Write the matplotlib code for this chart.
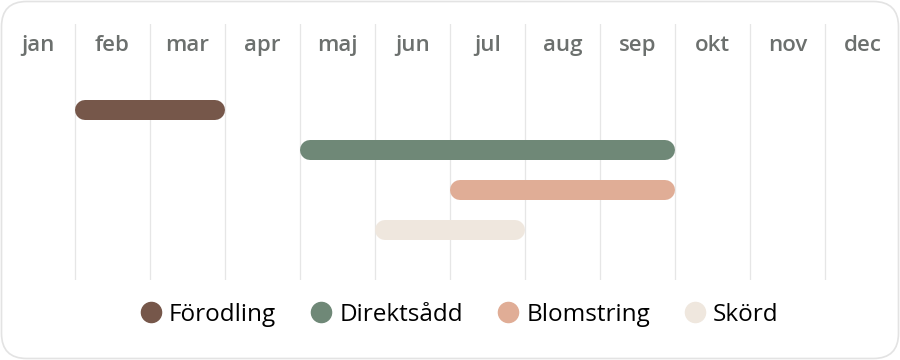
import matplotlib
matplotlib.use("Agg")
import matplotlib.pyplot as plt
from matplotlib.lines import Line2D
from matplotlib.patches import FancyBboxPatch

plt.rcParams['font.family'] = ['Open Sans', 'DejaVu Sans']

MONTHS = ["jan", "feb", "mar", "apr", "maj", "jun",
          "jul", "aug", "sep", "okt", "nov", "dec"]
PHASES = ["Förodling", "Direktsådd", "Blomstring", "Skörd"]
# start month index and end month index (exclusive)
STARTS = [1, 4, 6, 5]
ENDS = [3, 9, 9, 7]
COLOURS = ["#76574a", "#6f8877", "#e0ad96", "#efe7de"]

BAR_PX = 20          # bar thickness in pixels
MONTH_PX = 75        # width of one month in pixels

fig = plt.figure(figsize=(9, 3.6), dpi=100)
fig.patch.set_facecolor("white")

# rounded card behind everything
card = FancyBboxPatch((1.5 / 900, 1.5 / 360), 897 / 900, 357 / 360,
                      boxstyle="round,pad=0,rounding_size=0.028",
                      transform=fig.transFigure, facecolor="white",
                      edgecolor="#e3e3e3", linewidth=1.2,
                      mutation_aspect=2.5, zorder=-5)
fig.patches.append(card)

ax = fig.add_axes([0, 80 / 360, 1, 256 / 360])
ax.set_zorder(1)
ax.set_xlim(0, 12)
ax.set_ylim(4.25, -2.15)
ax.axis("off")

for m in range(1, 12):
    ax.axvline(m, color="#e6e6e6", lw=0.9, zorder=0)

for i, name in enumerate(MONTHS):
    ax.text(i + 0.5, -1.62, name, ha="center", va="center",
            fontsize=16, fontweight=600, color="#6c706e")

cap = BAR_PX / 2 / MONTH_PX
lw_pt = BAR_PX * 72 / 100
for row, (s, e, c) in enumerate(zip(STARTS, ENDS, COLOURS)):
    ax.plot([s + cap, e - cap], [row, row], color=c, lw=lw_pt,
            solid_capstyle="round", zorder=2)

handles = [Line2D([], [], marker="o", ls="", markersize=14.5,
                  markerfacecolor=c, markeredgecolor=c) for c in COLOURS]
fig.legend(handles, PHASES, loc="center", bbox_to_anchor=(460 / 900, 1 - 315 / 360),
           ncol=4, frameon=False, fontsize=17.5, handletextpad=0.35,
           columnspacing=1.45, handlelength=0.8)

fig.savefig("out.png", dpi=100)
